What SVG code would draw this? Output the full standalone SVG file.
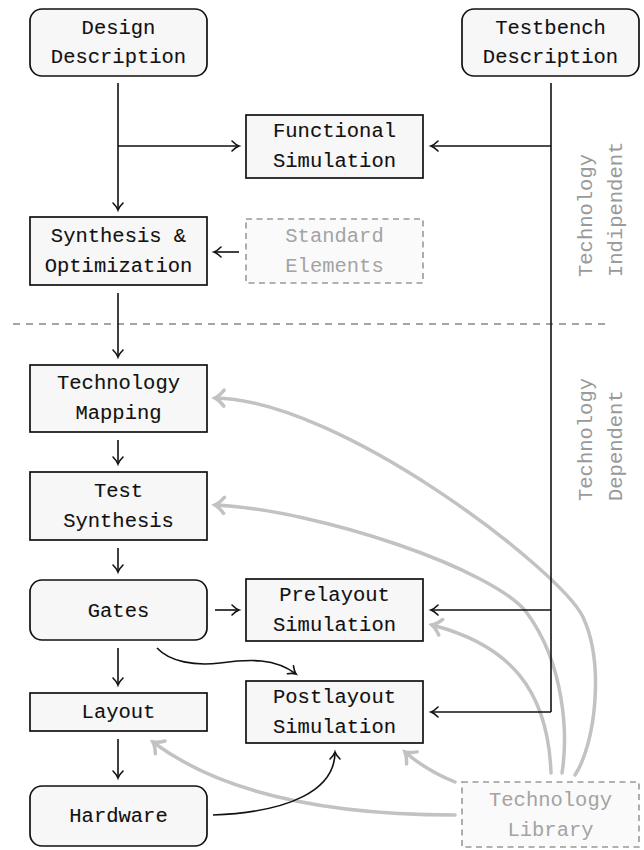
<svg xmlns="http://www.w3.org/2000/svg" width="644" height="850" viewBox="0 0 644 850">
<style>
.box{fill:#f7f7f7;stroke:#111;stroke-width:1.7}
.dbox{fill:#fafafa;stroke:#999;stroke-width:1.6;stroke-dasharray:6,4.5}
.t{font-family:"Liberation Mono","DejaVu Sans Mono",monospace;font-size:20.5px;text-anchor:middle;fill:#111;stroke:#111;stroke-width:0.1}
.g{font-family:"Liberation Mono","DejaVu Sans Mono",monospace;font-size:20.5px;text-anchor:middle;fill:#a3a3a3}
.r{font-family:"Liberation Mono","DejaVu Sans Mono",monospace;font-size:20.5px;fill:#9a9a9a}
.ln{fill:none;stroke:#111;stroke-width:1.6}
.ga{fill:none;stroke:#c2c2c2;stroke-width:3.5;stroke-linecap:round}
</style>
<defs>
<marker id="ah" markerUnits="userSpaceOnUse" viewBox="-10 -8 12 16" refX="0" refY="0" markerWidth="12" markerHeight="16" orient="auto" overflow="visible">
<path d="M-7,-5 C-4,-2 -1.5,-0.5 0,0 C-1.5,0.5 -4,2 -7,5" fill="none" stroke="#111" stroke-width="1.6" stroke-linecap="round"/>
</marker>
<marker id="gh" markerUnits="userSpaceOnUse" viewBox="-12 -10 14 20" refX="0" refY="0" markerWidth="14" markerHeight="20" orient="auto" overflow="visible">
<path d="M-9,-8 C-5,-3 -2,-1 0,0 C-2,1 -5,3 -9,8" fill="none" stroke="#c2c2c2" stroke-width="3.5" stroke-linecap="round"/>
</marker>
</defs>

<g id="divider">
<line x1="13" y1="324" x2="606" y2="324" stroke="#888" stroke-width="1.5" stroke-dasharray="7,6"/>
</g>

<g id="label-indep">
<text class="r" transform="translate(592,277) rotate(-90)"><tspan x="0" y="0">Technology</tspan><tspan x="0" y="30">Indipendent</tspan></text>
</g>
<g id="label-dep">
<text class="r" transform="translate(592,501) rotate(-90)"><tspan x="0" y="0">Technology</tspan><tspan x="0" y="30">Dependent</tspan></text>
</g>

<g id="gray-connectors">
<path class="ga" d="M575,775 C595,745 605,665 583,617 C560,570 340,400 215,398" marker-end="url(#gh)"/>
<path class="ga" d="M562,773 C568,735 565,665 527,613 C495,570 320,510 215,505" marker-end="url(#gh)"/>
<path class="ga" d="M551,773 C548,690 510,645 432,625" marker-end="url(#gh)"/>
<path class="ga" d="M455,782 C440,776 420,765 405,752" marker-end="url(#gh)"/>
<path class="ga" d="M455,815 C350,815 230,800 153,742" marker-end="url(#gh)"/>
</g>

<g id="connectors">
<path class="ln" d="M118,83 V210" marker-end="url(#ah)"/>
<path class="ln" d="M118,146 H239" marker-end="url(#ah)"/>
<path class="ln" d="M551,83 V712"/>
<path class="ln" d="M551,146 H431" marker-end="url(#ah)"/>
<path class="ln" d="M551,610 H431" marker-end="url(#ah)"/>
<path class="ln" d="M551,712 H431" marker-end="url(#ah)"/>
<path class="ln" d="M239,252 H214" marker-end="url(#ah)"/>
<path class="ln" d="M118,293 V357" marker-end="url(#ah)"/>
<path class="ln" d="M118,440 V464" marker-end="url(#ah)"/>
<path class="ln" d="M118,548 V572" marker-end="url(#ah)"/>
<path class="ln" d="M215,610 H239" marker-end="url(#ah)"/>
<path class="ln" d="M118,648 V685" marker-end="url(#ah)"/>
<path class="ln" d="M118,739 V778" marker-end="url(#ah)"/>
<path class="ln" d="M157,648 C170,662 195,666 220,663 C250,659 275,658 296,674" marker-end="url(#ah)"/>
<path class="ln" d="M213,815 C290,812 335,790 335,752" marker-end="url(#ah)"/>
</g>

<g id="design"><rect class="box" x="30" y="9" width="177" height="67" rx="12"/>
<text class="t"><tspan x="118.5" y="33.5">Design</tspan><tspan x="118.5" y="63">Description</tspan></text></g>

<g id="testbench"><rect class="box" x="462" y="9" width="177" height="67" rx="12"/>
<text class="t"><tspan x="550.5" y="33.5">Testbench</tspan><tspan x="550.5" y="63">Description</tspan></text></g>

<g id="functional"><rect class="box" x="246" y="115" width="177" height="63"/>
<text class="t"><tspan x="334.5" y="137">Functional</tspan><tspan x="334.5" y="167">Simulation</tspan></text></g>

<g id="synthesis"><rect class="box" x="30" y="217" width="177" height="68"/>
<text class="t"><tspan x="118.5" y="241.5">Synthesis &amp;</tspan><tspan x="118.5" y="271.5">Optimization</tspan></text></g>

<g id="standard"><rect class="dbox" x="246" y="219" width="177" height="64"/>
<text class="g"><tspan x="334.5" y="241.5">Standard</tspan><tspan x="334.5" y="271.5">Elements</tspan></text></g>

<g id="techmap"><rect class="box" x="30" y="365" width="177" height="67"/>
<text class="t"><tspan x="118.5" y="389">Technology</tspan><tspan x="118.5" y="419">Mapping</tspan></text></g>

<g id="testsynth"><rect class="box" x="30" y="472" width="177" height="68"/>
<text class="t"><tspan x="118.5" y="496.5">Test</tspan><tspan x="118.5" y="526.5">Synthesis</tspan></text></g>

<g id="gates"><rect class="box" x="30" y="580" width="177" height="60" rx="12"/>
<text class="t" x="118.5" y="617">Gates</text></g>

<g id="prelayout"><rect class="box" x="246" y="579" width="177" height="62"/>
<text class="t"><tspan x="334.5" y="601">Prelayout</tspan><tspan x="334.5" y="631">Simulation</tspan></text></g>

<g id="layout"><rect class="box" x="30" y="693" width="177" height="38"/>
<text class="t" x="118.5" y="718">Layout</text></g>

<g id="postlayout"><rect class="box" x="246" y="681" width="177" height="62"/>
<text class="t"><tspan x="334.5" y="703">Postlayout</tspan><tspan x="334.5" y="733">Simulation</tspan></text></g>

<g id="hardware"><rect class="box" x="30" y="786" width="177" height="60" rx="12"/>
<text class="t" x="118.5" y="822">Hardware</text></g>

<g id="library"><rect class="dbox" x="462" y="782" width="177" height="65"/>
<text class="g"><tspan x="550.5" y="806">Technology</tspan><tspan x="550.5" y="836">Library</tspan></text></g>
</svg>
